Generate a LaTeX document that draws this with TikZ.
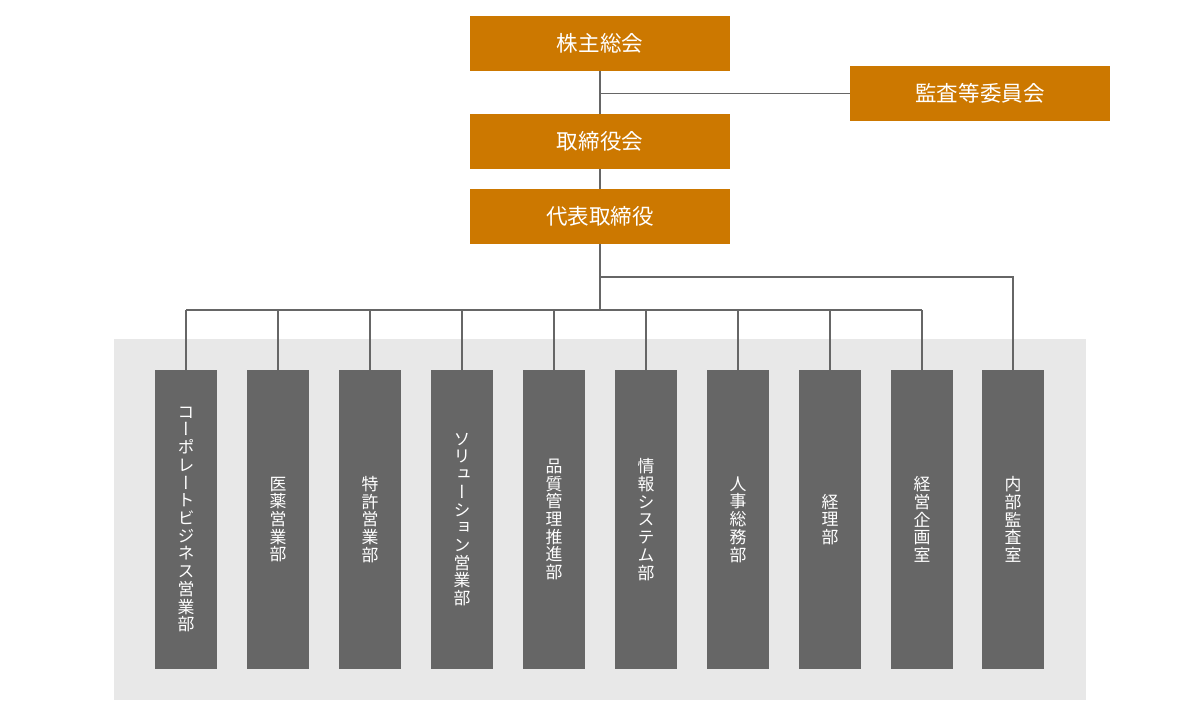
\documentclass[tikz,border=0pt]{standalone}
\usepackage{fontspec}
\setmainfont{Noto Sans CJK JP}
\newfontfamily\cjkvert[RawFeature=+vert]{Noto Sans CJK JP}
\definecolor{boardorange}{HTML}{CC7800}
\definecolor{deptgray}{HTML}{666666}
\definecolor{areagray}{HTML}{E8E8E8}
\tikzset{
  boardbox/.style={fill=boardorange, text=white, minimum width=6.475cm, minimum height=1.375cm, inner sep=0pt, font=\fontsize{15.3pt}{17pt}\selectfont},
  deptbox/.style={fill=deptgray, text=white, minimum width=1.55cm, minimum height=7.475cm, inner sep=0pt, align=center, font=\cjkvert\fontsize{12pt}{12.6pt}\selectfont},
  link/.style={draw=deptgray, line width=1.4pt}
}
\begin{document}
\begin{tikzpicture}[x=0.025cm, y=-0.025cm]
  \useasboundingbox (0, 0) rectangle (1200, 708);
  \fill[areagray] (114, 339) rectangle (1086, 700);

  % top of the organisation
  \node[boardbox] (kabunushi) at (600, 43.5) {株主総会};
  \node[boardbox] (kansa) at (980, 93.5) {監査等委員会};
  \node[boardbox] (torishimariyaku) at (600, 141.5) {取締役会};
  \node[boardbox] (daihyo) at (600, 216.5) {代表取締役};

  % departments
  \foreach \n/\x/\t in {
      1/186/{コ\\ー\\ポ\\レ\\ー\\ト\\ビ\\ジ\\ネ\\ス\\営\\業\\部},
      2/278/{医\\薬\\営\\業\\部},
      3/370/{特\\許\\営\\業\\部},
      4/462/{ソ\\リ\\ュ\\ー\\シ\\ョ\\ン\\営\\業\\部},
      5/554/{品\\質\\管\\理\\推\\進\\部},
      6/646/{情\\報\\シ\\ス\\テ\\ム\\部},
      7/738/{人\\事\\総\\務\\部},
      8/830/{経\\理\\部},
      9/922/{経\\営\\企\\画\\室},
      10/1013/{内\\部\\監\\査\\室}}
    \node[deptbox] (dept\n) at (\x, 519.5) {\t};

  % connectors
  \coordinate (kansabranch) at (600, 93.5);
  \coordinate (auditbranch) at (600, 277);
  \coordinate (bus) at (600, 310);
  \draw[link] (kabunushi.south) -- (torishimariyaku.north);
  \draw[link] (kansabranch) -- (kansa.west);
  \draw[link] (torishimariyaku.south) -- (daihyo.north);
  \draw[link] (daihyo.south) -- (bus);
  \draw[link] (auditbranch) -| (dept10.north);
  \draw[link] (dept1.north |- bus) -- (dept9.north |- bus);
  \foreach \n in {1,...,9}
    \draw[link] (dept\n.north |- bus) -- (dept\n.north);
\end{tikzpicture}
\end{document}
